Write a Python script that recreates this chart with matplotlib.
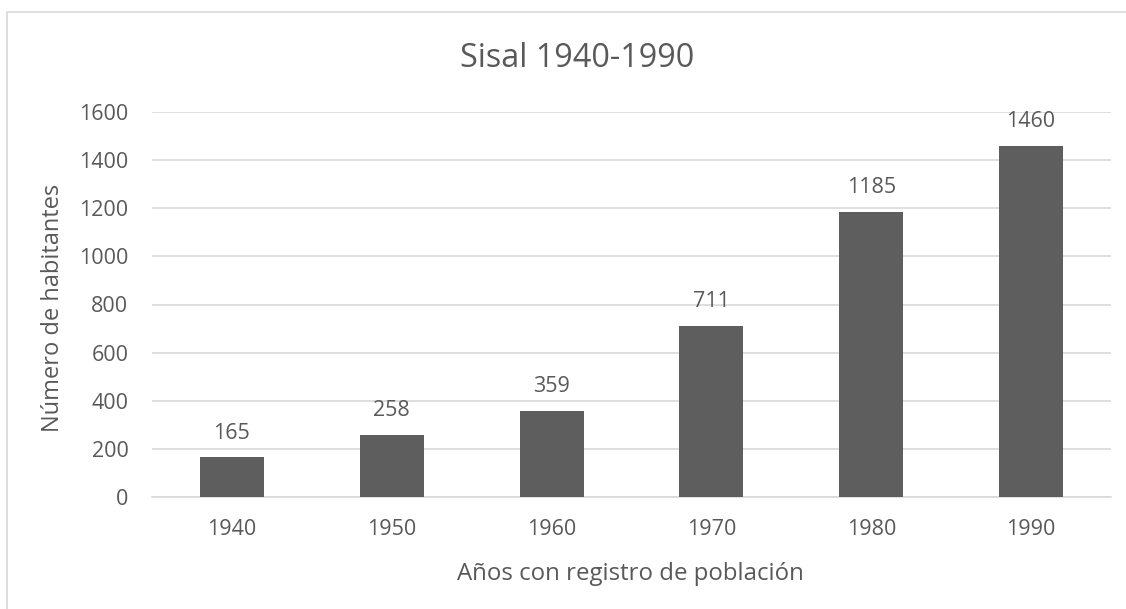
# Bar chart of Sisal population by census year
import matplotlib.pyplot as plt
from matplotlib.patches import Rectangle

plt.rcParams['font.family'] = ['Open Sans', 'DejaVu Sans']

# data
years = ['1940', '1950', '1960', '1970', '1980', '1990']
habitantes = [165, 258, 359, 711, 1185, 1460]
y_ticks = [0, 200, 400, 600, 800, 1000, 1200, 1400, 1600]

TEXT_COLOR = '#595959'
BAR_COLOR = '#5e5e5e'
GRID_COLOR = '#d9d9d9'

fig = plt.figure(figsize=(11.26, 6.09), dpi=100)
ax = fig.add_axes([152/1126, 1 - 497/609, 959/1126, 385/609])

x = range(len(years))
bars = ax.bar(x, habitantes, width=0.4, color=BAR_COLOR, zorder=3)

# value labels on top of bars
for xi, v in zip(x, habitantes):
    ax.annotate(str(v), (xi, v), xytext=(0, 13.5), textcoords='offset points',
                ha='center', va='baseline', fontsize=15.5, color=TEXT_COLOR)

ax.set_xlim(-0.5, len(years) - 0.5)
ax.set_ylim(0, 1600)
ax.set_yticks(y_ticks)
ax.set_xticks(list(x))
ax.set_xticklabels(years)
ax.tick_params(axis='both', length=0, labelsize=15.5, labelcolor=TEXT_COLOR)
ax.tick_params(axis='y', pad=17)
ax.tick_params(axis='x', pad=16)

# gridlines
ax.yaxis.grid(True, color=GRID_COLOR, linewidth=1.2, zorder=0)
for s in ['top', 'right', 'left']:
    ax.spines[s].set_visible(False)
ax.spines['bottom'].set_color(GRID_COLOR)
ax.spines['bottom'].set_linewidth(1.2)

# titles and labels
fig.text(577/1126, 1 - 67/609, 'Sisal 1940-1990', ha='center', va='baseline',
         fontsize=23.3, color=TEXT_COLOR)
fig.text(53/1126, 1 - 308/609, 'Número de habitantes', ha='center', va='center',
         rotation=90, fontsize=17, color=TEXT_COLOR)
fig.text(630/1126, 1 - 580/609, 'Años con registro de población', ha='center',
         va='baseline', fontsize=17.3, color=TEXT_COLOR)

# outer chart border
fig.patches.append(Rectangle((7/1126, -0.05), 1.2, 1 - 12/609 + 0.05,
                             transform=fig.transFigure, fill=False,
                             edgecolor=GRID_COLOR, linewidth=1.2))

fig.savefig('out.png', dpi=100)
